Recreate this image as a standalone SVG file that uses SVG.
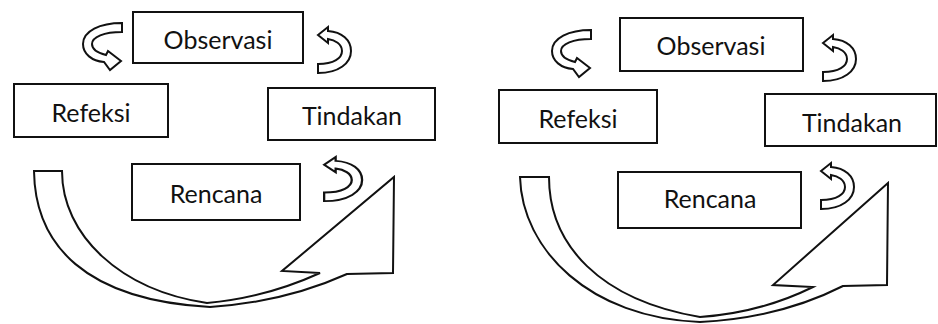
<svg xmlns="http://www.w3.org/2000/svg" xmlns:xlink="http://www.w3.org/1999/xlink" width="938" height="324" viewBox="0 0 938 324">
<style>
.box{fill:#fff;stroke:#111;stroke-width:2}
.lbl{font-family:Lato,"Open Sans",sans-serif;font-size:25px;fill:#111;text-anchor:middle}
.arr{fill:#fff;stroke:#111;stroke-width:2;stroke-linejoin:miter}
</style>
<defs>
<path id="curlC" class="arr" d="M40,1 C18,1 1,9 1,22 C1,32 10,39 22,40 L28,48 L39,39 L26,29 L24,33 C16,31 10,27 10,22 C10,15 22,10 40,10 Z"/>
<path id="curlD" class="arr" d="M1,8 L11,0 L11,4 C25,5 34,13 34,24 C34,36 22,46 1,46 L1,37 C17,37 25,31 25,24 C25,17 18,13 11,12 L11,16 Z"/>
</defs>
<rect width="938" height="324" fill="#fff"/>
<g id="connectors">
<use xlink:href="#curlC" href="#curlC" transform="translate(82,22)"/>
<use xlink:href="#curlD" href="#curlD" transform="translate(317,27)"/>
<use xlink:href="#curlD" href="#curlD" transform="translate(323,157) scale(1.15,0.96)"/>
<path class="arr" d="M34,171 L62,171 C62,235 120,290 207,303 Q265,298 320,273 L282,271 L394,177 L393,273 L347,274 Q285,302 210,307 C85,300 35,245 34,171 Z"/>
<use xlink:href="#curlC" href="#curlC" transform="translate(551,29)"/>
<use xlink:href="#curlD" href="#curlD" transform="translate(822,35)"/>
<use xlink:href="#curlD" href="#curlD" transform="translate(820,163)"/>
<path class="arr" d="M520,177 L549,177 C549,245 600,300 700,317 Q760,313 813,287 L773,285 L888,183 L887,285 L843,286 Q780,318 700,322 C590,318 522,250 520,177 Z"/>
</g>
<g id="observasi-1"><rect class="box" x="133" y="12" width="170" height="51"/><text class="lbl" x="218" y="49">Observasi</text></g>
<g id="refeksi-1"><rect class="box" x="14" y="84" width="154" height="53"/><text class="lbl" x="91" y="122">Refeksi</text></g>
<g id="tindakan-1"><rect class="box" x="268" y="88" width="167" height="52"/><text class="lbl" x="352" y="125">Tindakan</text></g>
<g id="rencana-1"><rect class="box" x="132" y="164" width="168" height="56"/><text class="lbl" x="216" y="203">Rencana</text></g>
<g id="observasi-2"><rect class="box" x="620" y="18" width="183" height="53"/><text class="lbl" x="711" y="55">Observasi</text></g>
<g id="refeksi-2"><rect class="box" x="499" y="90" width="158" height="53"/><text class="lbl" x="578" y="128">Refeksi</text></g>
<g id="tindakan-2"><rect class="box" x="765" y="94" width="171" height="52"/><text class="lbl" x="852" y="132">Tindakan</text></g>
<g id="rencana-2"><rect class="box" x="618" y="172" width="183" height="56"/><text class="lbl" x="710" y="208">Rencana</text></g>
</svg>
